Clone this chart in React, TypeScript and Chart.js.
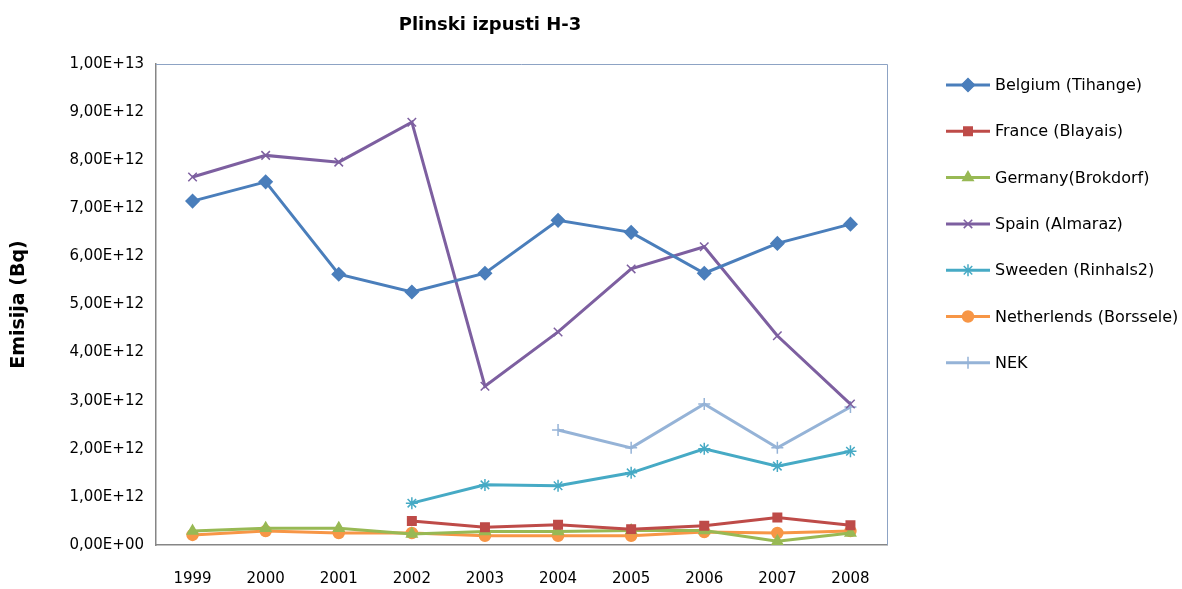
import React, { useEffect, useRef } from "react";
import { Chart, registerables } from "chart.js";
import { drawPoint } from "chart.js/helpers";

Chart.register(...registerables);

const years = ["1999", "2000", "2001", "2002", "2003", "2004", "2005", "2006", "2007", "2008"];
const E = 1e12;
const belgium = [7.15, 7.55, 5.63, 5.26, 5.65, 6.75, 6.5, 5.65, 6.27, 6.67].map((v) => v * E);
const france = [null, null, null, 0.5, 0.37, 0.42, 0.33, 0.4, 0.57, 0.41].map((v) => (v == null ? null : v * E));
const germany = [0.29, 0.35, 0.35, 0.23, 0.28, 0.28, 0.3, 0.3, 0.08, 0.25].map((v) => v * E);
const spain = [7.65, 8.1, 7.96, 8.79, 3.3, 4.43, 5.74, 6.2, 4.35, 2.93].map((v) => v * E);
const sweden = [null, null, null, 0.87, 1.25, 1.23, 1.5, 2.0, 1.64, 1.95].map((v) => (v == null ? null : v * E));
const netherlands = [0.21, 0.29, 0.25, 0.25, 0.19, 0.19, 0.19, 0.27, 0.25, 0.29].map((v) => v * E);
const nek = [null, null, null, null, null, 2.39, 2.02, 2.93, 2.02, 2.87].map((v) => (v == null ? null : v * E));

const seriesNames = [
  "Belgium (Tihange)",
  "France (Blayais)",
  "Germany(Brokdorf)",
  "Spain (Almaraz)",
  "Sweeden (Rinhals2)",
  "Netherlends (Borssele)",
  "NEK",
];
const seriesData = [belgium, france, germany, spain, sweden, netherlands, nek];
const seriesColors = ["#4A7EBB", "#BE4B48", "#98B954", "#7D5FA0", "#46AAC5", "#F79646", "#95B3D7"];
const seriesMarkers = ["rectRot", "rect", "triangle", "crossRot", "star", "circle", "cross"];
const seriesRadius = [6.5, 6, 6, 6, 6, 5.5, 6];

const chartTitle = "Plinski izpusti H-3";
const yTitle = "Emisija (Bq)";
const FONT = "'DejaVu Sans', sans-serif";

function fmtSci(v: number): string {
  if (v === 0) return "0,00E+00";
  const exp = Math.floor(Math.log10(Math.abs(v)) + 1e-9);
  const m = v / Math.pow(10, exp);
  return m.toFixed(2).replace(".", ",") + "E+" + String(exp).padStart(2, "0");
}

export default function App() {
  const ref = useRef<HTMLCanvasElement | null>(null);
  useEffect(() => {
    document.body.style.margin = "0";
    const canvas = ref.current!;
    const decor = {
      id: "decor",
      afterDatasetsDraw(chart: any) {
        const ctx = chart.ctx;
        const a = chart.chartArea;
        ctx.save();
        ctx.strokeStyle = "#8DA3C4";
        ctx.lineWidth = 1;
        ctx.beginPath();
        ctx.moveTo(a.left, a.top + 0.5);
        ctx.lineTo(a.right + 0.5, a.top + 0.5);
        ctx.lineTo(a.right + 0.5, a.bottom);
        ctx.stroke();
        ctx.restore();
      },
      afterDraw(chart: any) {
        const ctx = chart.ctx;
        ctx.save();
        ctx.fillStyle = "#000";
        ctx.font = "bold 18px " + FONT;
        ctx.textAlign = "center";
        ctx.textBaseline = "middle";
        ctx.fillText(chartTitle, 490, 25);
        // legend
        ctx.font = "16px " + FONT;
        ctx.textAlign = "left";
        for (let i = 0; i < seriesNames.length; i++) {
          const y = 85 + i * 46.3;
          ctx.strokeStyle = seriesColors[i];
          ctx.lineWidth = 3;
          ctx.beginPath();
          ctx.moveTo(946, y);
          ctx.lineTo(990, y);
          ctx.stroke();
          ctx.fillStyle = seriesColors[i];
          ctx.lineWidth = 1.5;
          drawPoint(ctx, { pointStyle: seriesMarkers[i] as any, radius: seriesRadius[i], borderWidth: 1.5, rotation: 0 } as any, 968, y);
          ctx.fillStyle = "#000";
          ctx.fillText(seriesNames[i], 995, y + 1);
        }
        ctx.restore();
      },
    };
    const chart = new Chart(canvas, {
      type: "line",
      data: {
        labels: years,
        datasets: seriesData.map((d, i) => ({
          label: seriesNames[i],
          data: d as any,
          borderColor: seriesColors[i],
          backgroundColor: seriesColors[i],
          pointBackgroundColor: seriesColors[i],
          pointBorderColor: seriesColors[i],
          pointStyle: seriesMarkers[i] as any,
          pointRadius: seriesRadius[i],
          pointBorderWidth: 1.5,
          borderWidth: 3,
          tension: 0,
          spanGaps: false,
          clip: false as any,
        })),
      },
      options: {
        animation: false,
        responsive: false,
        maintainAspectRatio: false,
        layout: { padding: { left: 8, right: 295, top: 64, bottom: 0 } },
        plugins: { legend: { display: false }, title: { display: false }, tooltip: { enabled: false } },
        scales: {
          x: {
            offset: true,
            grid: { display: false, drawTicks: false },
            border: { color: "#868686", width: 1.5 },
            ticks: { color: "#000", font: { family: FONT, size: 15 }, padding: 25, maxRotation: 0 },
            afterFit(s: any) {
              s.height = 44;
            },
          },
          y: {
            min: 0,
            max: 1e13,
            grid: { display: false, drawTicks: true, tickLength: 6, tickColor: "#868686" },
            border: { color: "#868686", width: 1.5 },
            ticks: {
              stepSize: 1e12,
              color: "#000",
              font: { family: FONT, size: 15 },
              padding: 6,
              callback: (v: any) => fmtSci(Number(v)),
            },
            title: { display: true, text: yTitle, color: "#000", font: { family: FONT, size: 19, weight: "bold" }, padding: { top: 0, bottom: 0 } },
            afterFit(s: any) {
              s.width = 148;
            },
          },
        },
      },
      plugins: [decor],
    });
    return () => chart.destroy();
  }, []);
  return <canvas ref={ref} width={1182} height={589} style={{ display: "block" }} />;
}
